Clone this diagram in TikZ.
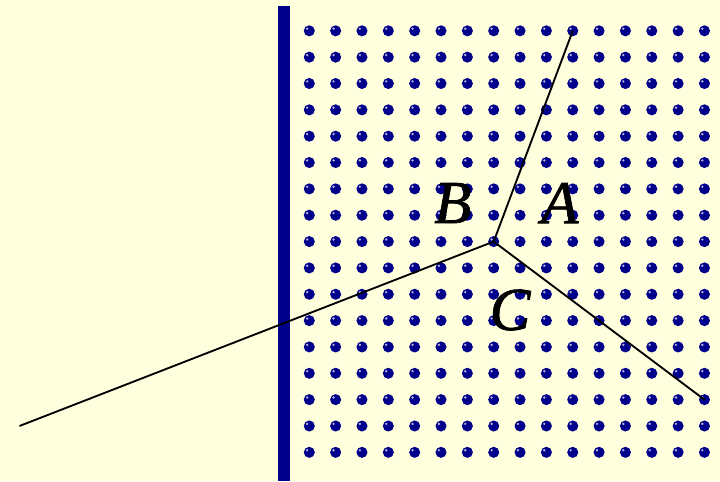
\documentclass[tikz,border=0pt]{standalone}
\usepackage{fontspec}
\setmainfont{Liberation Serif}
\newfontfamily\letra[FakeBold=1.2,ItalicFeatures={FakeBold=1.2}]{Liberation Serif}
\definecolor{fondo}{RGB}{255,255,221}
\definecolor{azul}{RGB}{0,0,139}

\begin{document}
\begin{tikzpicture}[x=0.7cm,y=0.7cm,line width=1.4pt,
    punto/.style={fill=azul},
    etiqueta/.style={font=\letra\fontsize{46}{46}\selectfont\itshape}]
  % fondo
  \fill[fondo] (-11.74,-1.09) rectangle (15.59,17.17);
  \useasboundingbox (-11.74,-1.09) rectangle (15.59,17.17);
  % pared
  \fill[azul] (-1.19,-1.09) rectangle (-0.73,16.94);
  % red de puntos
  \foreach \i in {0,...,15}
    \foreach \j in {0,...,16} {
      \fill[punto] (\i,\j) circle(0.21);
      \fill[white!70!azul] (\i-0.08,\j+0.08) circle(0.05);
    }
  % lineas
  \coordinate (o) at (7,8);
  \coordinate (arriba) at (10,16);
  \coordinate (derecha) at (15,2);
  \coordinate (izquierda) at (-11,1);
  \draw (o) -- (arriba);
  \draw (o) -- (derecha);
  \draw (o) -- (izquierda);
  % regiones
  \node[etiqueta] (A) at (9.51,9.46) {A};
  \node[etiqueta] (B) at (5.45,9.46) {B};
  \node[etiqueta] (C) at (7.62,5.40) {C};
\end{tikzpicture}
\end{document}
